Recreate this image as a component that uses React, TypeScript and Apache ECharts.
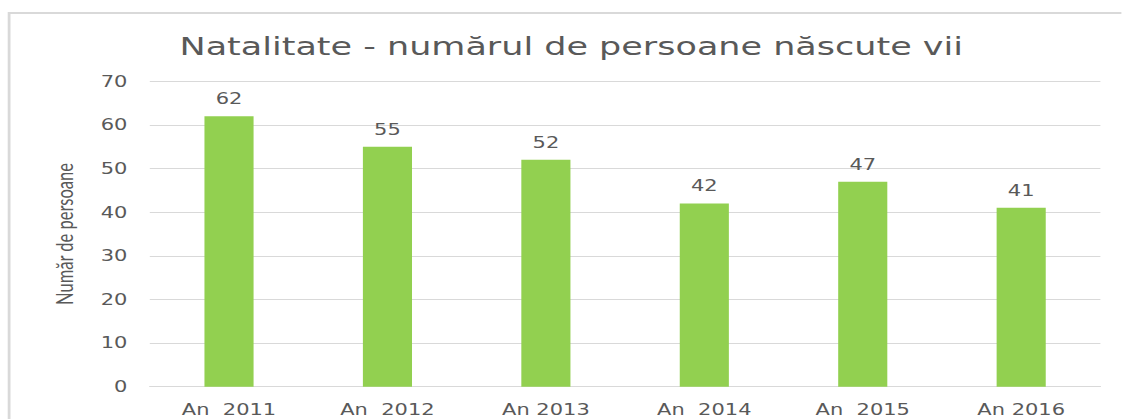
import React, { useEffect, useRef } from "react";
import * as echarts from "echarts";

const categories = ["An  2011", "An  2012", "An 2013", "An  2014", "An  2015", "An 2016"];
const births = [62, 55, 52, 42, 47, 41];
const titleText = "Natalitate - numărul de persoane născute vii";
const yAxisName = "Număr de persoane";

const STRETCH = 1.4;
const W = Math.round(1122 / STRETCH);
const H = 419;
const LABEL_FONT = "DejaVu Sans";

export default function App() {
  const ref = useRef<HTMLDivElement>(null);
  useEffect(() => {
    if (!ref.current) return;
    const chart = echarts.init(ref.current, undefined, { renderer: "svg", width: W, height: H });
    chart.setOption({
      animation: false,
      backgroundColor: "#ffffff",
      textStyle: { fontFamily: LABEL_FONT, color: "#595959" },
      graphic: [
        {
          type: "rect",
          shape: { x: 6.5, y: 13, width: W + 20, height: H + 40 },
          style: { fill: "none", stroke: "#d9d9d9", lineWidth: 2 },
          silent: true,
        },
      ],
      title: {
        text: titleText,
        left: 403,
        textAlign: "center",
        top: 29,
        textStyle: { fontFamily: "DejaVu Sans", fontSize: 25, fontWeight: "normal", color: "#595959" },
      },
      grid: { left: 107, right: 15, top: 81.3, bottom: 32.3, containLabel: false },
      xAxis: {
        type: "category",
        data: categories,
        axisLine: { show: true, lineStyle: { color: "#d9d9d9", width: 1 } },
        axisTick: { show: false },
        axisLabel: { fontFamily: LABEL_FONT, fontSize: 15, color: "#595959", margin: 15 },
      },
      yAxis: {
        type: "value",
        min: 0,
        max: 70,
        interval: 10,
        name: yAxisName,
        nameLocation: "middle",
        nameGap: 53,
        nameTextStyle: { fontFamily: "Lato", fontSize: 16.5, color: "#595959" },
        axisLine: { show: false },
        axisTick: { show: false },
        axisLabel: { fontFamily: LABEL_FONT, fontSize: 15, color: "#595959", margin: 16 },
        splitLine: { lineStyle: { color: "#d9d9d9", width: 1 } },
      },
      series: [
        {
          type: "bar",
          data: births,
          barWidth: "31%",
          itemStyle: { color: "#92d050" },
          label: {
            show: true,
            position: "top",
            distance: 10,
            fontFamily: LABEL_FONT,
            fontSize: 15,
            color: "#595959",
          },
        },
      ],
    });
    return () => chart.dispose();
  }, []);
  return (
    <div
      style={{
        position: "fixed",
        left: 0,
        top: 0,
        width: W,
        height: H,
        transform: `scaleX(${STRETCH})`,
        transformOrigin: "0 0",
        background: "#fff",
      }}
    >
      <div ref={ref} style={{ width: W, height: H }} />
    </div>
  );
}
